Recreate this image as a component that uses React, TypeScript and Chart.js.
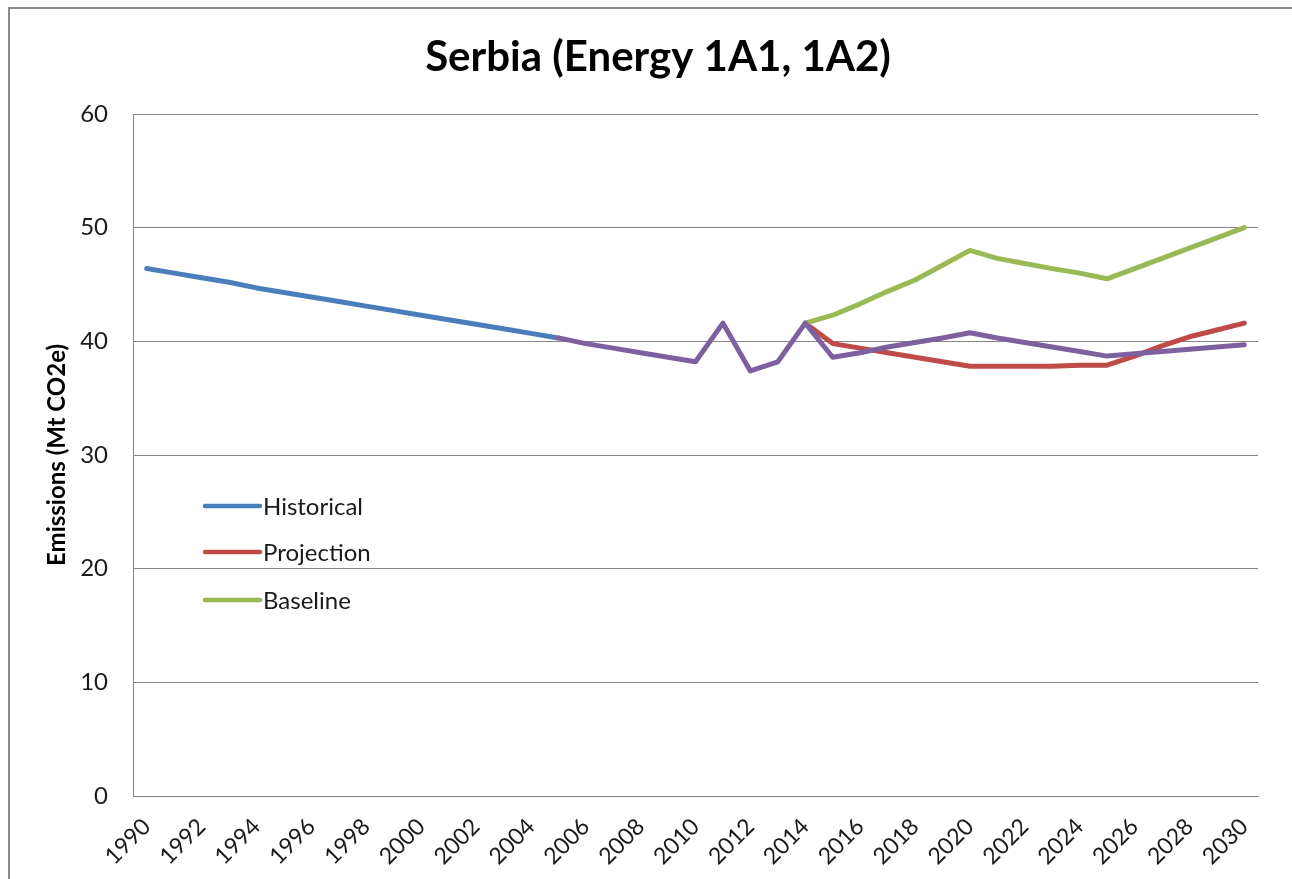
import React, { useEffect, useRef } from 'react';
import { Chart, registerables } from 'chart.js';

Chart.register(...registerables);

const TITLE = 'Serbia (Energy 1A1, 1A2)';
const Y_TITLE = 'Emissions (Mt CO2e)';

const YEARS = [
  '1990', '1991', '1992', '1993', '1994', '1995', '1996', '1997', '1998', '1999',
  '2000', '2001', '2002', '2003', '2004', '2005', '2006', '2007', '2008', '2009',
  '2010', '2011', '2012', '2013', '2014', '2015', '2016', '2017', '2018', '2019',
  '2020', '2021', '2022', '2023', '2024', '2025', '2026', '2027', '2028', '2029', '2030',
];

// Historical, 1990–2005
const HISTORICAL_START = '1990';
const HISTORICAL = [46.4, 46.0, 45.6, 45.2, 44.7, 44.3, 43.9, 43.5, 43.1, 42.7, 42.3, 41.9, 41.5, 41.1, 40.7, 40.3];

// Projection, 2014–2030
const PROJECTION_START = '2014';
const PROJECTION = [41.6, 39.8, 39.4, 39.0, 38.6, 38.2, 37.8, 37.8, 37.8, 37.8, 37.9, 37.9, 38.7, 39.6, 40.4, 41.0, 41.6];

// Baseline, 2014–2030
const BASELINE_START = '2014';
const BASELINE = [41.6, 42.3, 43.3, 44.4, 45.4, 46.7, 48.0, 47.3, 46.85, 46.4, 46.0, 45.5, 46.4, 47.3, 48.2, 49.1, 50.0];

// Unlabelled (purple) series, 2005–2030
const OTHER_START = '2005';
const OTHER = [
  40.3, 39.8, 39.4, 39.0, 38.6, 38.2, 41.6, 37.4, 38.2, 41.6,
  38.6, 39.0, 39.5, 39.9, 40.3, 40.75, 40.3, 39.9, 39.5, 39.1,
  38.7, 38.9, 39.1, 39.3, 39.5, 39.7,
];

const SERIES_NAMES = ['Historical', 'Projection', 'Baseline', ''];
const SERIES_COLORS = ['#4a7ebb', '#be4b48', '#98b954', '#7d60a0'];

function align(start: string, vals: number[]): (number | null)[] {
  const s = YEARS.indexOf(start);
  return YEARS.map((_, i) => (i >= s && i - s < vals.length ? vals[i - s] : null));
}

const GRID = '#868686';
const TEXT = '#1a1a1a';

const framePlugin = {
  id: 'frame',
  beforeDraw(chart: any) {
    const ctx = chart.ctx;
    ctx.save();
    ctx.fillStyle = '#ffffff';
    ctx.fillRect(0, 0, chart.width, chart.height);
    ctx.strokeStyle = '#8a8a8a';
    ctx.lineWidth = 2;
    ctx.strokeRect(9, 8, 2000, 2000);
    ctx.fillStyle = '#000';
    ctx.font = 'bold 42px Lato';
    ctx.textAlign = 'center';
    ctx.textBaseline = 'alphabetic';
    ctx.fillText(TITLE, 658, 71);
    ctx.restore();
  },
};

const innerLegendPlugin = {
  id: 'innerLegend',
  afterDatasetsDraw(chart: any) {
    const ctx = chart.ctx;
    const { left, top } = chart.chartArea;
    ctx.save();
    const x0 = left + 72;
    const lineLen = 55;
    const rows = [392, 438, 486];
    chart.data.datasets.forEach((ds: any, i: number) => {
      if (!ds.label) return;
      const y = top + rows[i];
      ctx.strokeStyle = ds.borderColor;
      ctx.lineWidth = 4.5;
      ctx.lineCap = 'round';
      ctx.beginPath();
      ctx.moveTo(x0, y);
      ctx.lineTo(x0 + lineLen, y);
      ctx.stroke();
      ctx.fillStyle = TEXT;
      ctx.font = '24px Lato';
      ctx.textBaseline = 'middle';
      ctx.textAlign = 'left';
      ctx.fillText(ds.label, x0 + lineLen + 3, y + 1);
    });
    ctx.restore();
  },
};

export default function App() {
  const ref = useRef<HTMLCanvasElement>(null);

  useEffect(() => {
    const seriesData = [
      align(HISTORICAL_START, HISTORICAL),
      align(PROJECTION_START, PROJECTION),
      align(BASELINE_START, BASELINE),
      align(OTHER_START, OTHER),
    ];
    const orders = [3, 2, 1, 0];
    const chart = new Chart(ref.current!, {
      type: 'line',
      data: {
        labels: YEARS,
        datasets: seriesData.map((d, i) => ({
          label: SERIES_NAMES[i],
          data: d,
          borderColor: SERIES_COLORS[i],
          backgroundColor: SERIES_COLORS[i],
          borderWidth: 5,
          pointRadius: 0,
          pointHoverRadius: 0,
          borderJoinStyle: 'round' as const,
          borderCapStyle: 'round' as const,
          tension: 0,
          spanGaps: false,
          order: orders[i],
        })),
      },
      options: {
        responsive: false,
        animation: false,
        devicePixelRatio: 1,
        layout: { padding: { top: 114, right: 34, bottom: 0, left: 0 } },
        plugins: {
          legend: { display: false },
          tooltip: { enabled: false },
          title: { display: false },
        },
        scales: {
          x: {
            type: 'category',
            offset: true,
            grid: { display: false, drawTicks: false },
            border: { display: true, color: GRID, width: 1 },
            ticks: {
              autoSkip: false,
              maxRotation: 45,
              minRotation: 45,
              padding: 17,
              color: TEXT,
              font: { family: 'Lato', size: 23 },
              callback: function (this: any, v: any, i: number) {
                return i % 2 === 0 ? this.getLabelForValue(v) : '';
              },
            },
            afterFit: (s: any) => {
              s.height = 83;
            },
          },
          y: {
            min: 0,
            max: 60,
            ticks: {
              stepSize: 10,
              padding: 25,
              color: TEXT,
              font: { family: 'Lato', size: 24 },
            },
            grid: { color: GRID, lineWidth: 1, drawTicks: false },
            border: { display: true, color: GRID, width: 1 },
            title: {
              display: true,
              text: Y_TITLE,
              color: '#000',
              font: { family: 'Lato', size: 24, weight: 'bold' },
              padding: { top: 43, bottom: 0 },
            },
            afterFit: (s: any) => {
              s.width = 133;
            },
          },
        },
      },
      plugins: [framePlugin, innerLegendPlugin],
    } as any);
    return () => chart.destroy();
  }, []);

  return (
    <div
      style={{
        position: 'fixed',
        left: 0,
        top: 0,
        width: 1292,
        height: 879,
        overflow: 'hidden',
        background: '#fff',
      }}
    >
      <canvas ref={ref} width={1292} height={879} style={{ display: 'block', width: 1292, height: 879 }} />
    </div>
  );
}
